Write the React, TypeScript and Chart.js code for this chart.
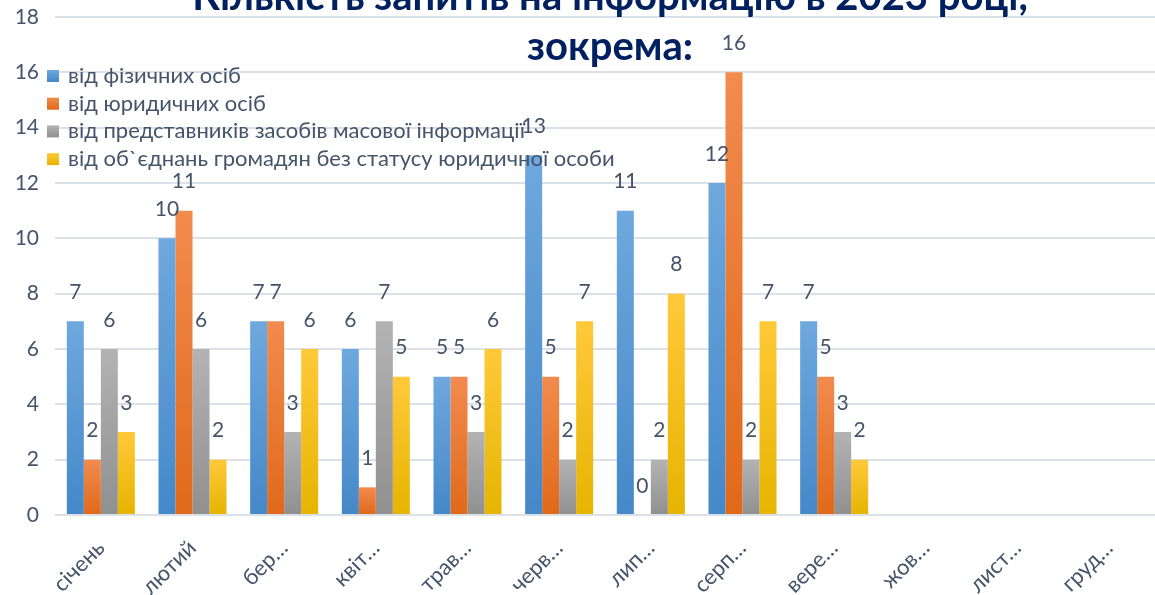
import React, { useEffect, useRef } from "react";
import { Chart, registerables } from "chart.js";

Chart.register(...registerables);

const months = ["січень", "лютий", "бер…", "квіт…", "трав…", "черв…", "лип…", "серп…", "вере…", "жов…", "лист…", "груд…"];
const seriesNames = [
  "від фізичних осіб",
  "від юридичних осіб",
  "від представників засобів масової інформації",
  "від об`єднань громадян без статусу юридичної особи",
];
const physical = [7, 10, 7, 6, 5, 13, 11, 12, 7, null, null, null];
const legal = [2, 11, 7, 1, 5, 5, 0, 16, 5, null, null, null];
const media = [6, 6, 3, 7, 3, 2, 2, 2, 3, null, null, null];
const associations = [3, 2, 6, 5, 6, 7, 8, 7, 2, null, null, null];
const yTicks = [0, 2, 4, 6, 8, 10, 12, 14, 16, 18];
const titleLines = ["Кількість запитів на інформацію в 2023 році,", "зокрема:"];

const FONT = "Lato, 'Noto Sans', sans-serif";
const TEXT = "#44546A";
const base = ["#5B9BD5", "#ED7D31", "#A5A5A5", "#FFC000"];
const tops = ["#6EA8DE", "#F28B4E", "#B3B3B3", "#FFC93A"];
const bottoms = ["#4588C8", "#E0691A", "#909090", "#E6B400"];

const labelsPlugin = {
  id: "valueLabels",
  afterDatasetsDraw(chart: any) {
    const ctx = chart.ctx;
    ctx.save();
    ctx.font = `21px ${FONT}`;
    ctx.fillStyle = TEXT;
    ctx.textAlign = "center";
    ctx.textBaseline = "middle";
    chart.data.datasets.forEach((ds: any, i: number) => {
      const meta = chart.getDatasetMeta(i);
      meta.data.forEach((bar: any, j: number) => {
        const v = ds.data[j];
        if (v == null) return;
        ctx.fillText(String(v), bar.x, bar.y - 29);
      });
    });
    ctx.restore();
  },
};

const overlayPlugin = {
  id: "overlay",
  afterDraw(chart: any) {
    const ctx = chart.ctx;
    ctx.save();
    // legend
    ctx.font = `22px ${FONT}`;
    ctx.textBaseline = "middle";
    ctx.textAlign = "left";
    seriesNames.forEach((name, i) => {
      const y = 76 + i * 27.7;
      const g = ctx.createLinearGradient(0, y - 6, 0, y + 6);
      g.addColorStop(0, tops[i]);
      g.addColorStop(1, bottoms[i]);
      ctx.fillStyle = g;
      ctx.fillRect(47, y - 6, 12, 12);
      ctx.fillStyle = TEXT;
      ctx.fillText(name, 68, y);
    });
    // title
    ctx.font = `bold 40px ${FONT}`;
    ctx.fillStyle = "#002060";
    ctx.textAlign = "center";
    ctx.fillText(titleLines[0], 610, -3);
    ctx.fillText(titleLines[1], 610, 47);
    ctx.restore();
  },
};

export default function App() {
  const ref = useRef<HTMLCanvasElement>(null);
  useEffect(() => {
    const series = [physical, legal, media, associations];
    const chart = new Chart(ref.current!, {
      type: "bar",
      data: {
        labels: months,
        datasets: series.map((d, i) => ({
          label: seriesNames[i],
          data: d,
          backgroundColor: (c: any) => {
            const ch = c.chart;
            const ys = ch.scales && ch.scales.y;
            if (!ys || c.raw == null || c.type !== "data") return base[i];
            const yTop = ys.getPixelForValue(c.raw);
            const yBase = ys.getPixelForValue(0);
            if (!isFinite(yTop) || !isFinite(yBase) || yTop === yBase) return base[i];
            const g = ch.ctx.createLinearGradient(0, yTop, 0, yBase);
            g.addColorStop(0, tops[i]);
            g.addColorStop(1, bottoms[i]);
            return g;
          },
          borderWidth: 0,
          categoryPercentage: 0.742,
          barPercentage: 1,
        })),
      },
      options: {
        animation: false,
        responsive: false,
        maintainAspectRatio: false,
        layout: { padding: { top: 17, right: 0, left: 0, bottom: 0 } },
        plugins: { legend: { display: false }, title: { display: false }, tooltip: { enabled: false } },
        scales: {
          x: {
            grid: { display: false, drawTicks: false },
            border: { display: false },
            ticks: {
              color: TEXT,
              font: { family: FONT, size: 22 },
              minRotation: 45,
              maxRotation: 45,
              padding: 20,
            },
            afterFit: (s: any) => {
              s.height = 80;
              s.paddingLeft = 0;
              s.paddingRight = 0;
              s.paddingTop = 0;
              s.paddingBottom = 0;
            },
          },
          y: {
            min: 0,
            max: 18,
            afterBuildTicks: (s: any) => { s.ticks = yTicks.map((v) => ({ value: v })); },
            grid: { color: "#DCE1E8", lineWidth: 2, drawTicks: false },
            border: { display: false },
            ticks: { color: TEXT, font: { family: FONT, size: 21 }, padding: 16 },
            afterFit: (s: any) => {
              s.width = 55;
              s.paddingTop = 0;
              s.paddingBottom = 0;
              s.paddingLeft = 0;
              s.paddingRight = 0;
            },
          },
        },
      },
      plugins: [labelsPlugin, overlayPlugin],
    });
    return () => chart.destroy();
  }, []);
  return (
    <div style={{ position: "fixed", left: 0, top: 0, width: 1155, height: 595, background: "#fff" }}>
      <canvas ref={ref} width={1155} height={595} style={{ width: 1155, height: 595 }} />
    </div>
  );
}
